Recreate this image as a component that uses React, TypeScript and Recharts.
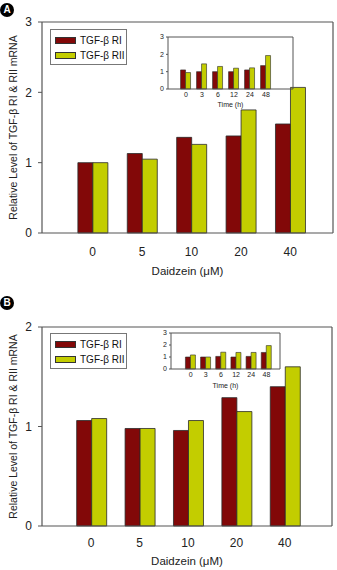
import React from 'react';
import { BarChart, Bar, XAxis, YAxis, Legend, CartesianGrid } from 'recharts';

const doses = ['0', '5', '10', '20', '40'];
const hours = ['0', '3', '6', '12', '24', '48'];

const aMainRI = [1.0, 1.13, 1.36, 1.38, 1.55];
const aMainRII = [1.0, 1.05, 1.26, 1.75, 2.07];
const aInsetRI = [1.1, 1.0, 1.0, 1.0, 1.1, 1.35];
const aInsetRII = [0.95, 1.45, 1.3, 1.2, 1.22, 1.93];

const bMainRI = [1.06, 0.98, 0.96, 1.29, 1.4];
const bMainRII = [1.08, 0.98, 1.06, 1.15, 1.6];
const bInsetRI = [1.0, 1.0, 1.05, 1.0, 1.05, 1.38];
const bInsetRII = [1.17, 1.0, 1.4, 1.38, 1.38, 1.95];

const seriesNames = ['TGF-β RI', 'TGF-β RII'];
const seriesColors = ['#820808', '#c3cd00'];

const yLabel = 'Relative Level of TGF-β RI & RII mRNA';
const xLabel = 'Daidzein (μM)';
const insetXLabel = 'Time (h)';

const FONT = '"Liberation Sans", Arial, sans-serif';
const AXIS = '#555';
const EDGE = '#2a2a2a';

const build = (cats: string[], a: number[], b: number[]) =>
  cats.map((c, i) => ({ cat: c, ri: a[i], rii: b[i] }));

// frame lines (top and right edges of the plot area), from the chart's own layout
const topEdge = (p: any) => [p.offset.top];
const rightEdge = (p: any) => [p.offset.left + p.offset.width];

const LegendBox = () => (
  <div
    style={{
      border: '1px solid #777',
      background: '#fff',
      width: 77,
      height: 36,
      boxSizing: 'border-box',
      padding: '3px 0 0 4px',
      fontFamily: FONT,
      fontSize: 10,
      color: '#111',
    }}
  >
    {seriesNames.map((n, i) => (
      <div key={n} style={{ display: 'flex', alignItems: 'center', height: 14, marginBottom: 1 }}>
        <span
          style={{
            display: 'inline-block',
            width: 19,
            height: 5,
            background: seriesColors[i],
            border: '1px solid #333',
            marginRight: 4,
          }}
        />
        <span>{n}</span>
      </div>
    ))}
  </div>
);

type MainProps = {
  data: { cat: string; ri: number; rii: number }[];
  height: number;
  top: number;
  right: number;
  xHeight: number;
  ymax: number;
  ticks: number[];
  padL: number;
  padR: number;
  legendTop: number;
  tickMargin: number;
};

const MainChart = ({ data, height, top, right, xHeight, ymax, ticks, padL, padR, legendTop, tickMargin }: MainProps) => (
  <BarChart
    width={337}
    height={height}
    data={data}
    margin={{ top, right, left: 0, bottom: 0 }}
    barCategoryGap="20%"
    barGap={0}
  >
    <CartesianGrid
      stroke={AXIS}
      strokeWidth={1.2}
      horizontalCoordinatesGenerator={topEdge}
      verticalCoordinatesGenerator={rightEdge}
    />
    <XAxis
      dataKey="cat"
      height={xHeight}
      padding={{ left: padL, right: padR }}
      tickLine={false}
      tickSize={6}
      tickMargin={tickMargin}
      axisLine={{ stroke: AXIS, strokeWidth: 1.2 }}
      tick={{ fontSize: 12, fill: '#222', fontFamily: FONT }}
      label={{ value: xLabel, position: 'insideBottom', offset: 5, style: { fontSize: 11.5, fill: '#222', fontFamily: FONT } }}
    />
    <YAxis
      width={42}
      domain={[0, ymax]}
      ticks={ticks}
      interval={0}
      tickSize={4}
      tickMargin={6}
      tickLine={{ stroke: AXIS }}
      axisLine={{ stroke: AXIS, strokeWidth: 1.2 }}
      tick={{ fontSize: 12, fill: '#222', fontFamily: FONT }}
      label={{ value: yLabel, angle: -90, position: 'center', dx: -8, style: { fontSize: 10.5, fill: '#222', fontFamily: FONT, textAnchor: 'middle' } }}
    />
    <Legend
      layout="vertical"
      align="center"
      verticalAlign="middle"
      wrapperStyle={{ position: 'absolute', left: 50, top: legendTop, width: 78 }}
      content={() => <LegendBox />}
    />
    <Bar dataKey="ri" name={seriesNames[0]} fill={seriesColors[0]} stroke={EDGE} strokeWidth={0.8} isAnimationActive={false} />
    <Bar dataKey="rii" name={seriesNames[1]} fill={seriesColors[1]} stroke={EDGE} strokeWidth={0.8} isAnimationActive={false} />
  </BarChart>
);

type InsetProps = {
  data: { cat: string; ri: number; rii: number }[];
  width: number;
  height: number;
  top: number;
  right: number;
  xHeight: number;
  padL: number;
  padR: number;
};

const InsetChart = ({ data, width, height, top, right, xHeight, padL, padR }: InsetProps) => (
  <BarChart
    width={width}
    height={height}
    data={data}
    margin={{ top, right, left: 0, bottom: 0 }}
    barCategoryGap="16%"
    barGap={0}
  >
    <CartesianGrid
      stroke={AXIS}
      horizontalCoordinatesGenerator={topEdge}
      verticalCoordinatesGenerator={rightEdge}
    />
    <XAxis
      dataKey="cat"
      height={xHeight}
      padding={{ left: padL, right: padR }}
      tickLine={false}
      tickSize={2}
      tickMargin={1}
      interval={0}
      axisLine={{ stroke: AXIS }}
      tick={{ fontSize: 7, fill: '#222', fontFamily: FONT }}
      label={{ value: insetXLabel, position: 'insideBottom', offset: 3, style: { fontSize: 7, fill: '#222', fontFamily: FONT } }}
    />
    <YAxis
      width={28}
      domain={[0, 3]}
      ticks={[0, 1, 2, 3]}
      interval={0}
      tickSize={2}
      tickMargin={2}
      tickLine={{ stroke: AXIS }}
      axisLine={{ stroke: AXIS }}
      tick={{ fontSize: 7, fill: '#222', fontFamily: FONT }}
    />
    <Bar dataKey="ri" fill={seriesColors[0]} stroke={EDGE} strokeWidth={0.6} isAnimationActive={false} />
    <Bar dataKey="rii" fill={seriesColors[1]} stroke={EDGE} strokeWidth={0.6} isAnimationActive={false} />
  </BarChart>
);

const Badge = ({ letter, left, top }: { letter: string; left: number; top: number }) => (
  <div
    style={{
      position: 'absolute',
      left,
      top,
      width: 14,
      height: 14,
      borderRadius: '50%',
      background: '#000',
      color: '#fff',
      fontFamily: FONT,
      fontWeight: 'bold',
      fontSize: 10,
      lineHeight: '14px',
      textAlign: 'center',
    }}
  >
    {letter}
  </div>
);

export default function App() {
  return (
    <div style={{ position: 'absolute', left: 0, top: 0, width: 337, height: 570, background: '#fff', overflow: 'hidden' }}>
      <div style={{ position: 'absolute', left: 0, top: 0 }}>
        <MainChart
          data={build(doses, aMainRI, aMainRII)}
          height={280}
          top={22}
          right={4}
          xHeight={47}
          ymax={3}
          ticks={[0, 1, 2, 3]}
          padL={26}
          padR={18}
          legendTop={29}
          tickMargin={8}
        />
      </div>
      <div style={{ position: 'absolute', left: 140, top: 28 }}>
        <InsetChart data={build(hours, aInsetRI, aInsetRII)} width={160} height={82} top={9} right={7} xHeight={21} padL={10} padR={19} />
      </div>
      <div style={{ position: 'absolute', left: 0, top: 280 }}>
        <MainChart
          data={build(doses, bMainRI, bMainRII)}
          height={290}
          top={47}
          right={5}
          xHeight={44}
          ymax={2}
          ticks={[0, 1, 2]}
          padL={25}
          padR={23}
          legendTop={53}
          tickMargin={6}
        />
      </div>
      <div style={{ position: 'absolute', left: 143, top: 325 }}>
        <InsetChart data={build(hours, bInsetRI, bInsetRII)} width={142} height={66} top={8} right={5} xHeight={22} padL={12} padR={6} />
      </div>
      <Badge letter="A" left={0} top={3} />
      <Badge letter="B" left={0} top={296} />
    </div>
  );
}
